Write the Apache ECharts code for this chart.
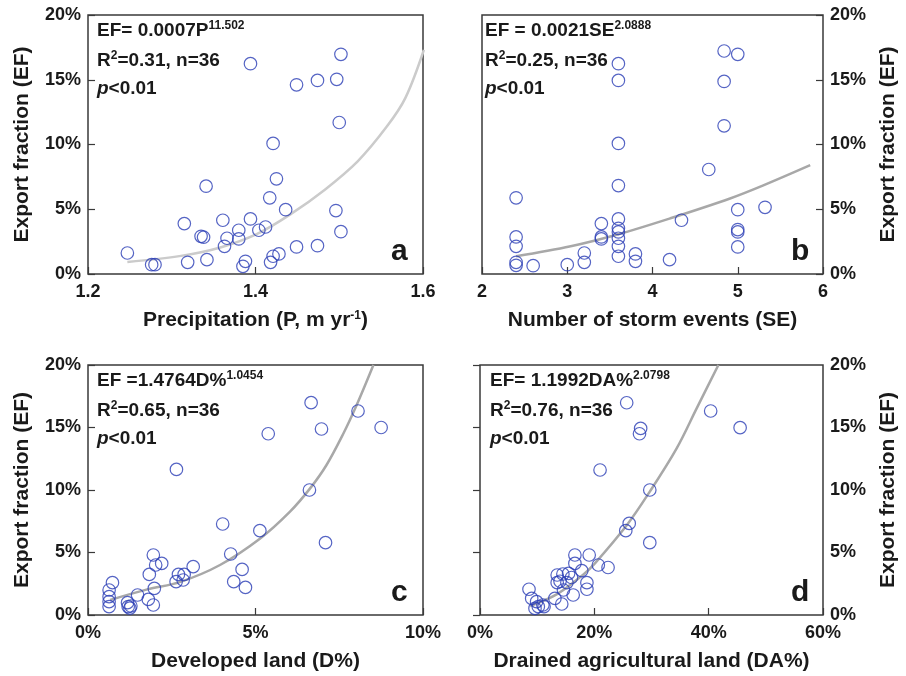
<!DOCTYPE html>
<html>
<head>
<meta charset="utf-8">
<script src="https://cdn.jsdelivr.net/npm/echarts@6/dist/echarts.min.js"></script>
<style>
html,body{margin:0;padding:0;background:#fff}
#chart{width:906px;height:676px}
</style>
</head>
<body>
<div id="chart"></div>
<script>
/* DATOS (EF en %) */
// a: precipitacion
const precipP = [1.247,1.276,1.280,1.319,1.315,1.342,1.341,1.335,1.338,1.361,1.363,1.366,1.380,1.380,1.385,1.388,1.394,1.394,1.404,1.412,1.417,1.418,1.421,1.428,1.421,1.425,1.436,1.449,1.449,1.474,1.474,1.497,1.502,1.500,1.496,1.502];
const precipEF = [1.62,0.72,0.72,0.90,3.89,1.11,6.78,2.91,2.84,4.15,2.14,2.76,3.38,2.71,0.59,0.98,16.24,4.25,3.38,3.63,5.88,0.90,1.37,1.55,10.08,7.35,4.97,2.09,14.61,14.95,2.19,15.03,16.96,11.70,4.90,3.27];
const fitP = [1.247,1.311,1.358,1.402,1.442,1.482,1.522,1.557,1.579,1.601];
const fitPEF = [0.93,1.40,2.05,3.10,4.62,6.47,8.70,11.4,13.6,17.3];

// b: numero de tormentas
const stormSE = [2.4,2.4,2.4,2.4,2.4,2.6,3.0,3.2,3.2,3.4,3.4,3.4,3.6,3.6,3.6,3.6,3.6,3.6,3.6,3.6,3.6,3.6,3.8,3.8,4.2,4.34,4.66,4.84,5.0,4.84,4.84,5.0,5.0,5.0,5.0,5.32];
const stormEF = [5.88,2.86,2.14,0.90,0.67,0.64,0.72,1.62,0.90,3.89,2.86,2.71,16.24,14.95,10.08,6.83,4.25,3.53,3.25,2.76,2.14,1.37,1.55,0.98,1.11,4.15,8.07,17.22,16.96,14.87,11.44,4.97,3.43,3.25,2.09,5.15];
const fitSE = [2.4,3.04,3.59,4.21,4.91,5.30,5.85];
const fitSEEF = [1.37,2.14,3.05,4.30,5.83,6.84,8.40];

// c: suelo desarrollado
const devD = [0.63,0.63,0.63,0.63,0.73,1.18,1.2,1.28,1.48,1.8,1.95,1.98,1.83,1.95,2.02,2.2,2.63,2.7,2.84,2.87,3.14,1.25,2.64,4.02,4.26,4.35,4.60,4.70,5.13,5.38,6.61,6.66,6.97,7.09,8.06,8.75];
const devEF = [0.67,1.07,1.47,2.0,2.59,0.99,0.67,0.72,1.6,1.25,0.8,2.13,3.25,4.8,4.0,4.13,2.67,3.25,2.8,3.25,3.87,0.55,11.65,7.28,4.88,2.67,3.65,2.21,6.75,14.5,10.0,16.99,14.88,5.79,16.32,15.0];
const fitD = [0.66,1.77,2.76,3.94,5.13,6.03,6.63,7.12,7.62,8.02,8.52];
const fitDEF = [1.2,2.05,2.65,4.0,6.1,8.27,10.13,12.0,14.5,16.8,20.0];

// d: suelo agricola drenado
const drainDA = [8.57,9.04,9.9,9.62,10.2,11.2,13.1,14.3,13.5,14.5,15.5,13.5,15.2,14.6,16.3,16.6,16.6,17.8,18.7,18.7,19.1,20.7,22.4,11.0,14.0,16.0,21.0,25.5,26.1,25.66,27.9,28.1,29.7,29.7,40.35,45.5];
const drainEF = [2.06,1.33,1.07,0.53,0.67,0.67,1.33,0.88,3.2,3.28,3.33,2.59,2.59,2.0,1.6,4.13,4.8,3.55,2.59,2.06,4.8,4.0,3.8,0.8,2.7,3.0,11.6,6.75,7.33,16.98,14.5,14.93,10.0,5.79,16.32,14.99];
const fitDA = [8.76,13.4,18.1,20.1,25.7,29.7,34.4,37.9,41.7];
const fitDAEF = [0.72,1.65,3.25,4.13,7.2,9.87,13.33,16.53,20.0];

const yTicks = [0, 20, 5];  // min, max, intervalo
const yName = 'Export fraction (EF)';

/* ESTILOS */
const FONT = 'Liberation Sans';
const azul = '#2b3db5';
const marco = '#3a3a3a';

const grids = [
  {left: 88, top: 15, width: 335, height: 259},
  {left: 482, top: 15, width: 341, height: 259},
  {left: 88, top: 365, width: 335, height: 250},
  {left: 480, top: 365, width: 343, height: 250}
];

function zip(a, b){
  return a.map((v, i) => [v, b[i]]);
}

const supRich = {
  sup: {fontSize: 12, fontWeight: 'bold', fontFamily: FONT, color: '#1a1a1a', verticalAlign: 'top', lineHeight: 12}
};

function ejeX(i, min, max, interval, name, fmt){
  return {
    type: 'value', gridIndex: i, min: min, max: max, interval: interval,
    name: name, nameLocation: 'middle', nameGap: 36,
    nameTextStyle: {fontSize: 21, fontWeight: 'bold', fontFamily: FONT, color: '#1a1a1a', rich: supRich},
    axisLine: {show: false},
    axisTick: {show: true, inside: true, length: 7, lineStyle: {color: marco, width: 1.2}},
    axisLabel: {fontSize: 18, fontWeight: 'bold', fontFamily: FONT, color: '#1a1a1a', margin: 9, formatter: fmt},
    splitLine: {show: false}
  };
}

function ejeY(i, pos){
  return {
    type: 'value', gridIndex: i, position: pos,
    min: yTicks[0], max: yTicks[1], interval: yTicks[2],
    name: yName, nameLocation: 'middle', nameRotate: 90, nameGap: 55,
    nameTextStyle: {fontSize: 21, fontWeight: 'bold', fontFamily: FONT, color: '#1a1a1a'},
    axisLine: {show: false},
    axisTick: {show: true, inside: true, length: 7, lineStyle: {color: marco, width: 1.2}},
    axisLabel: {fontSize: 18, fontWeight: 'bold', fontFamily: FONT, color: '#1a1a1a', margin: 7, formatter: '{value}%'},
    splitLine: {show: false}
  };
}

function puntos(i, xs, ys){
  return {
    type: 'scatter', xAxisIndex: i, yAxisIndex: i,
    data: zip(xs, ys), symbol: 'circle', symbolSize: 12.5, z: 3,
    itemStyle: {color: 'rgba(0,0,0,0)', borderColor: azul, borderWidth: 1.2}
  };
}

function curva(i, xs, ys, color){
  return {
    type: 'line', xAxisIndex: i, yAxisIndex: i,
    data: zip(xs, ys), smooth: 0.35, showSymbol: false, z: 2,
    lineStyle: {color: color, width: 2.5}
  };
}

/* TEXTOS DENTRO DE CADA PANEL */
const anotaciones = [
  ['EF= 0.0007P{sup|11.502}', 'R{sup|2}=0.31, n=36', 'a', 9],
  ['EF = 0.0021SE{sup|2.0888}', 'R{sup|2}=0.25, n=36', 'b', 3],
  ['EF =1.4764D%{sup|1.0454}', 'R{sup|2}=0.65, n=36', 'c', 9],
  ['EF= 1.1992DA%{sup|2.0798}', 'R{sup|2}=0.76, n=36', 'd', 10]
];

const graficos = [];
anotaciones.forEach((an, i) => {
  const g = grids[i];
  const base = {fill: '#1a1a1a', fontSize: 19, fontWeight: 'bold', fontFamily: FONT,
    verticalAlign: 'middle', align: 'left', lineHeight: 22};
  graficos.push({type: 'text', left: g.left + an[3], top: g.top + 5,
    style: Object.assign({}, base, {text: an[0], rich: supRich})});
  graficos.push({type: 'text', left: g.left + an[3], top: g.top + 35,
    style: Object.assign({}, base, {text: an[1], rich: supRich})});
  graficos.push({type: 'text', left: g.left + an[3], top: g.top + 63,
    style: Object.assign({}, base, {text: '{i|p}<0.01',
      rich: {i: {fontStyle: 'italic', fontSize: 19, fontWeight: 'bold', fontFamily: FONT, color: '#1a1a1a'}}})});
  graficos.push({type: 'text', left: g.left + g.width - 32, top: g.top + g.height - 37,
    style: {text: an[2], fill: '#1a1a1a', fontSize: 30, fontWeight: 'bold', fontFamily: FONT}});
});

const option = {
  animation: false,
  backgroundColor: '#fff',
  grid: grids.map(g => Object.assign({show: true, borderColor: marco, borderWidth: 1.5, containLabel: false}, g)),
  xAxis: [
    ejeX(0, 1.2, 1.6, 0.2, 'Precipitation (P, m yr{sup|-1})', v => v.toFixed(1)),
    ejeX(1, 2, 6, 1, 'Number of storm events (SE)', '{value}'),
    ejeX(2, 0, 10, 5, 'Developed land (D%)', '{value}%'),
    ejeX(3, 0, 60, 20, 'Drained agricultural land (DA%)', '{value}%')
  ],
  yAxis: [ejeY(0, 'left'), ejeY(1, 'right'), ejeY(2, 'left'), ejeY(3, 'right')],
  series: [
    curva(0, fitP, fitPEF, '#cbcbcb'),
    puntos(0, precipP, precipEF),
    curva(1, fitSE, fitSEEF, '#a8a8a8'),
    puntos(1, stormSE, stormEF),
    curva(2, fitD, fitDEF, '#a8a8a8'),
    puntos(2, devD, devEF),
    curva(3, fitDA, fitDAEF, '#a8a8a8'),
    puntos(3, drainDA, drainEF)
  ],
  graphic: graficos
};

const myChart = echarts.init(document.getElementById('chart'));
myChart.setOption(option);
</script>
</body>
</html>
